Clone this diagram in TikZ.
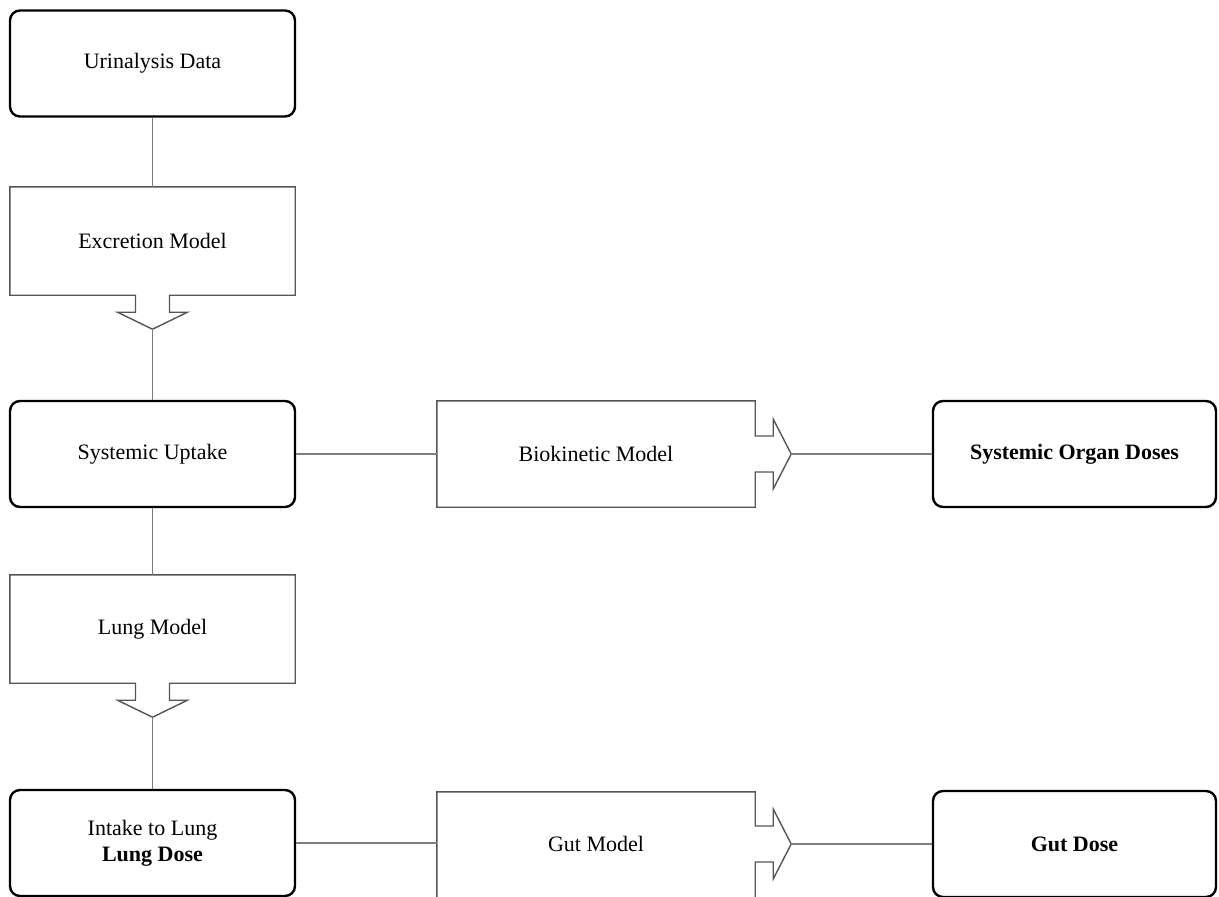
\documentclass[tikz,border=0pt]{standalone}
\usepackage{fontspec}
\setmainfont{Liberation Serif}
\usetikzlibrary{positioning, calc}
\definecolor{linkgray}{RGB}{125,125,125}
\definecolor{modelgray}{RGB}{85,85,85}

\begin{document}
\begin{tikzpicture}[x=1pt, y=-1pt,
  databox/.style={draw=black, line width=2.4pt, rounded corners=10pt, minimum height=106pt, align=center, font=\fontsize{22}{26}\selectfont},
  modelbox/.style={minimum height=108pt, align=center, font=\fontsize{22}{26}\selectfont},
  outline/.style={modelgray, line width=1.4pt},
  link/.style={linkgray, line width=1.3pt}]
  \useasboundingbox (0,0) rectangle (1219,897);

  % Left column
  \node[databox, minimum width=285pt] (urine) at (152.5, 63.5) {Urinalysis Data};
  \node[modelbox, minimum width=285pt] (excretion) at (152.5, 241) {Excretion Model};
  \node[databox, minimum width=285pt] (uptake) at (152.5, 454) {Systemic Uptake};
  \node[modelbox, minimum width=285pt] (lung) at (152.5, 629) {Lung Model};
  \node[databox, minimum width=285pt] (intake) at (152.5, 843) {Intake to Lung\\\textbf{Lung Dose}};

  % Middle and right columns
  \node[modelbox, minimum width=318pt, minimum height=106pt] (biokin) at (596, 454) {Biokinetic Model};
  \node[databox, minimum width=283pt] (organ) at (1074.5, 454) {\textbf{Systemic Organ Doses}};
  \node[modelbox, minimum width=318pt, minimum height=104pt] (gut) at (596, 844) {Gut Model};
  \node[databox, minimum width=283pt] (gutdose) at (1074.5, 844) {\textbf{Gut Dose}};

  % Model outlines with arrow notch
  \foreach \m in {excretion, lung} {
    \draw[outline] (\m.south east) -- ([xshift=17pt]\m.south) -- ++(0,-17pt) -- ++(18pt,0)
      -- ([yshift=-34pt]\m.south) coordinate (\m-tip) -- ++(-35pt,17pt) -- ++(18pt,0) -- ++(0,17pt)
      -- (\m.south west) -- (\m.north west) -- (\m.north east) -- cycle;
  }
  \draw[outline] (biokin.north east) -- ([yshift=18pt]biokin.east) -- ++(18pt,0) -- ++(0,17pt)
    -- ([xshift=36pt]biokin.east) coordinate (biokin-tip) -- ++(-18pt,-35pt) -- ++(0,17pt) -- ++(-18pt,0)
    -- (biokin.south east) -- (biokin.south west) -- (biokin.north west) -- cycle;
  % gut box runs off the bottom edge
  \draw[outline] ([yshift=-10pt]gut.south west) -- (gut.north west) -- (gut.north east)
    -- ([yshift=18pt]gut.east) -- ++(18pt,0) -- ++(0,17pt)
    -- ([xshift=36pt]gut.east) coordinate (gut-tip) -- ++(-18pt,-35pt) -- ++(0,17pt) -- ++(-18pt,0)
    -- ([yshift=-10pt]gut.south east);

  % Connectors
  \draw[link] (urine) -- (excretion);
  \draw[link] (excretion-tip) -- (uptake);
  \draw[link] (uptake) -- (lung);
  \draw[link] (lung-tip) -- (intake);
  \draw[link] (uptake) -- (biokin);
  \draw[link] (biokin-tip) -- (organ);
  \draw[link] (intake.east) -- (intake.east -| gut.west);
  \draw[link] (gut-tip) -- (gutdose);
\end{tikzpicture}
\end{document}
